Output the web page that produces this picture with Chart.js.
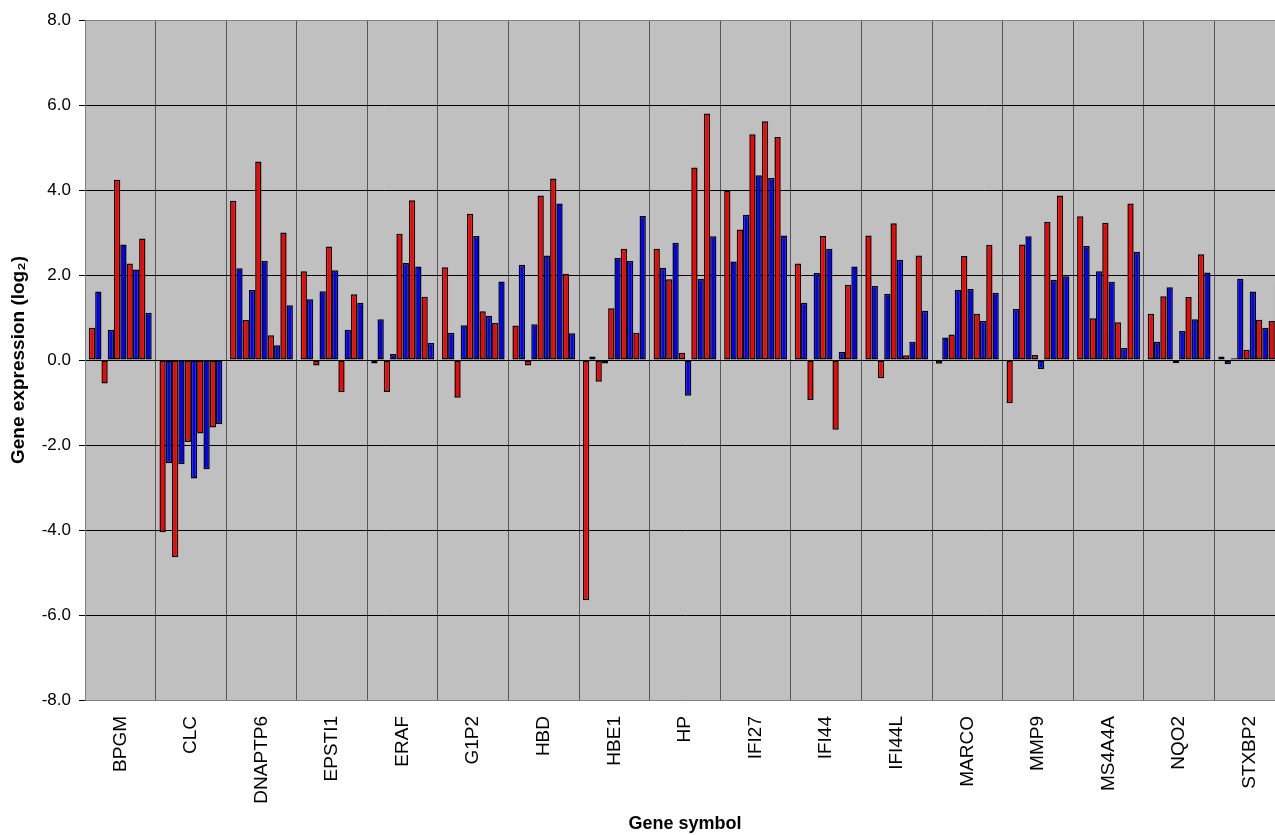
<!DOCTYPE html>
<html>
<head>
<meta charset="utf-8">
<script src="https://cdn.jsdelivr.net/npm/chart.js@4/dist/chart.umd.min.js"></script>
<style>
  html, body { margin: 0; padding: 0; background: #fff; overflow: hidden; }
  canvas { display: block; }
</style>
</head>
<body>
<canvas id="chart" width="1290" height="835"></canvas>
<script>
// Gene symbols on the x axis
const genes = ['BPGM', 'CLC', 'DNAPTP6', 'EPSTI1', 'ERAF', 'G1P2', 'HBD', 'HBE1', 'HP',
  'IFI27', 'IFI44', 'IFI44L', 'MARCO', 'MMP9', 'MS4A4A', 'NQO2', 'STXBP2'];

// Ten series per gene, alternating red / blue (log2 expression)
const series1  = [0.76, -4.05, 3.75, 2.09, -0.08, 2.18, 0.81, -5.65, 2.62, 3.99, 2.27, 2.93, -0.09, -1.02, 3.38, 1.09, 0.08];
const series2  = [1.61, -2.43, 2.16, 1.43, 0.96, 0.64, 2.24, 0.08, 2.17, 2.32, 1.35, 1.74, 0.53, 1.20, 2.68, 0.43, -0.10];
const series3  = [-0.55, -4.64, 0.94, -0.13, -0.75, -0.89, -0.13, -0.51, 1.90, 3.07, -0.94, -0.43, 0.60, 2.72, 0.98, 1.50, 0.04];
const series4  = [0.71, -2.45, 1.65, 1.62, 0.14, 0.82, 0.84, -0.08, 2.76, 3.42, 2.05, 1.56, 1.65, 2.91, 2.09, 1.71, 1.91];
const series5  = [4.24, -1.93, 4.67, 2.67, 2.97, 3.44, 3.87, 1.22, 0.17, 5.31, 2.92, 3.22, 2.45, 0.12, 3.23, -0.07, 0.24];
const series6  = [2.72, -2.79, 2.33, 2.11, 2.28, 2.92, 2.46, 2.40, -0.84, 4.35, 2.62, 2.36, 1.67, -0.21, 1.84, 0.68, 1.61];
const series7  = [2.27, -1.73, 0.58, -0.76, 3.76, 1.15, 4.27, 2.62, 4.53, 5.62, -1.64, 0.11, 1.09, 3.25, 0.89, 1.48, 0.95];
const series8  = [2.13, -2.57, 0.35, 0.71, 2.20, 1.04, 3.68, 2.33, 1.91, 4.28, 0.19, 0.43, 0.92, 1.89, 0.28, 0.96, 0.76];
const series9  = [2.86, -1.59, 3.00, 1.55, 1.49, 0.87, 2.03, 0.64, 5.80, 5.25, 1.77, 2.46, 2.71, 3.87, 3.68, 2.49, 0.92];
const series10 = [1.11, -1.51, 1.29, 1.35, 0.40, 1.85, 0.63, 3.39, 2.91, 2.93, 2.20, 1.16, 1.58, 1.97, 2.55, 2.06, 1.82];

// Y axis range and step
const yMin = -8;
const yMax = 8;
const yStep = 2;

const allSeries = [series1, series2, series3, series4, series5,
  series6, series7, series8, series9, series10];

const FONT = "'Liberation Sans', Arial, sans-serif";

// grey plot area like the old Excel charts
const plotBackground = {
  id: 'plotBackground',
  beforeDraw(chart) {
    const { ctx, chartArea: a } = chart;
    ctx.save();
    ctx.fillStyle = '#c0c0c0';
    ctx.fillRect(a.left, a.top, a.right - a.left, a.bottom - a.top);
    ctx.restore();
  }
};

const ctx = document.getElementById('chart').getContext('2d');

new Chart(ctx, {
  type: 'bar',
  data: {
    labels: genes,
    datasets: allSeries.map((values, i) => ({
      label: 'Series ' + (i + 1),
      data: values,
      backgroundColor: i % 2 === 0 ? '#ff0000' : '#0000ff',
      borderColor: '#000000',
      borderWidth: 1.5,
      borderSkipped: false,
      categoryPercentage: 0.89,
      barPercentage: 1.0
    }))
  },
  options: {
    responsive: false,
    animation: false,
    layout: { padding: { top: 20, right: 5, left: 0, bottom: 0 } },
    plugins: {
      legend: { display: false },
      tooltip: { enabled: false }
    },
    scales: {
      x: {
        grid: {
          color: (c) => c.index === 0 ? '#808080' : '#555555',
          lineWidth: 1,
          drawTicks: false
        },
        border: { color: '#808080' },
        ticks: {
          color: '#000',
          font: { family: FONT, size: 19 },
          minRotation: 90,
          maxRotation: 90,
          padding: 16,
          autoSkip: false
        },
        title: {
          display: true,
          text: 'Gene symbol',
          color: '#000',
          font: { family: FONT, size: 18, weight: 'bold' },
          padding: { top: 0, bottom: 0 }
        },
        afterFit(scale) { scale.height = 135; }
      },
      y: {
        min: yMin,
        max: yMax,
        grid: {
          color: (c) => (c.tick && (c.tick.value === yMin || c.tick.value === yMax)) ? '#808080' : '#000000',
          lineWidth: 1,
          tickLength: 6,
          tickColor: '#000'
        },
        border: { color: '#808080' },
        ticks: {
          stepSize: yStep,
          color: '#000',
          padding: 8,
          font: { family: FONT, size: 17 },
          callback: (v) => Number(v).toFixed(1)
        },
        title: {
          display: true,
          text: 'Gene expression (log₂)',
          color: '#000',
          font: { family: FONT, size: 19, weight: 'bold' },
          padding: { top: 7, bottom: 0 }
        },
        afterFit(scale) { scale.width = 85; }
      }
    }
  },
  plugins: [plotBackground]
});
</script>
</body>
</html>
